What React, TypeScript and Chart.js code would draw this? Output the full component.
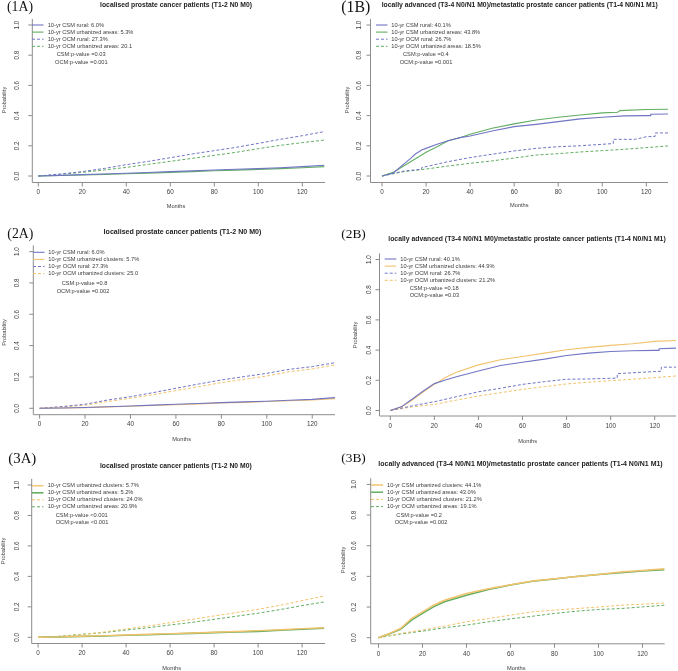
import React, { useEffect, useRef } from 'react';
import { Chart, registerables } from 'chart.js';
Chart.register(...registerables);

const W = 678;
const H = 671;
const BLUE = '#7175c4';
const GREEN = '#62ad62';
const ORANGE = '#f2c36c';
const AXIS = '#8c8c8c';
const TEXT = '#3c3c3c';
const SANS = '"Liberation Sans", Arial, sans-serif';
const SERIF = '"Liberation Serif", "Times New Roman", serif';

// ---------- data ----------
const monthsGrid = [0, 10, 20, 30, 40, 50, 60, 70, 80, 90, 100, 110, 120, 130];
const monthsFine = [0, 5, 10, 15, 20, 25, 30, 40, 50, 60, 70, 80, 90, 100, 110, 120, 130];
const xTicks = [0, 20, 40, 60, 80, 100, 120];
const yTicks = [0, 0.2, 0.4, 0.6, 0.8, 1.0];
const yTickLabels = ['0.0', '0.2', '0.4', '0.6', '0.8', '1.0'];

const titleA = 'localised prostate cancer patients (T1-2 N0 M0)';
const titleB = 'locally advanced (T3-4 N0/N1 M0)/metastatic prostate cancer patients (T1-4 N0/N1 M1)';

// 1A
const p1aCsmRural = [0, 0.004, 0.009, 0.013, 0.018, 0.023, 0.029, 0.034, 0.040, 0.045, 0.049, 0.055, 0.062, 0.071];
const p1aCsmUrban = [0, 0.003, 0.007, 0.011, 0.015, 0.019, 0.024, 0.029, 0.035, 0.039, 0.044, 0.049, 0.055, 0.062];
const p1aOcmRural = [0, 0.013, 0.029, 0.050, 0.075, 0.097, 0.121, 0.146, 0.168, 0.190, 0.216, 0.243, 0.267, 0.294];
const p1aOcmUrban = [0, 0.011, 0.024, 0.040, 0.057, 0.077, 0.097, 0.117, 0.137, 0.157, 0.181, 0.203, 0.221, 0.238];
const p1aLegend = ['10-yr CSM rural: 6.0%', '10-yr CSM urbanized areas: 5.3%', '10-yr OCM rural: 27.3%', '10-yr OCM urbanized areas: 20.1'];
const p1aP = ['CSM:p-value =0.03', 'OCM:p-value =0.001'];

// 1B
const p1bCsmRuralMonths = [0, 5, 10, 13, 15, 18, 20, 25, 30, 36, 40, 50, 60, 70, 80, 90, 100, 110, 120, 122, 122, 130];
const p1bCsmRural = [0, 0.018, 0.080, 0.117, 0.144, 0.172, 0.183, 0.210, 0.234, 0.256, 0.265, 0.298, 0.327, 0.342, 0.360, 0.378, 0.389, 0.398, 0.400, 0.400, 0.409, 0.411];
const p1bCsmUrbanMonths = [0, 5, 10, 15, 20, 25, 30, 36, 40, 50, 60, 70, 80, 90, 100, 107, 108, 120, 130];
const p1bCsmUrban = [0, 0.024, 0.068, 0.113, 0.157, 0.194, 0.234, 0.256, 0.276, 0.316, 0.345, 0.371, 0.389, 0.404, 0.418, 0.422, 0.433, 0.440, 0.442];
const p1bOcmRuralMonths = [0, 10, 18, 18, 20, 30, 40, 50, 60, 70, 80, 90, 100, 105, 105, 115, 120, 124, 124, 130];
const p1bOcmRural = [0, 0.033, 0.045, 0.055, 0.062, 0.095, 0.122, 0.144, 0.166, 0.183, 0.194, 0.200, 0.210, 0.215, 0.243, 0.243, 0.260, 0.262, 0.285, 0.285];
const p1bOcmUrban = [0, 0.029, 0.046, 0.066, 0.084, 0.100, 0.119, 0.139, 0.148, 0.159, 0.168, 0.177, 0.188, 0.199];
const p1bLegend = ['10-yr CSM rural: 40.1%', '10-yr CSM urbanized areas: 43.8%', '10-yr OCM rural: 26.7%', '10-yr OCM urbanized areas: 18.5%'];
const p1bP = ['CSM:p-value =0.4', 'OCM:p-value =0.001'];

// 2A
const p2aCsmRural = [0, 0.002, 0.005, 0.010, 0.015, 0.020, 0.026, 0.031, 0.036, 0.041, 0.045, 0.051, 0.057, 0.068];
const p2aCsmClusters = [0, 0.002, 0.004, 0.009, 0.013, 0.018, 0.023, 0.028, 0.034, 0.038, 0.043, 0.048, 0.053, 0.062];
const p2aOcmRural = [0, 0.011, 0.026, 0.053, 0.074, 0.100, 0.128, 0.155, 0.181, 0.202, 0.223, 0.249, 0.266, 0.291];
const p2aOcmClusters = [0, 0.009, 0.019, 0.043, 0.064, 0.087, 0.113, 0.138, 0.164, 0.185, 0.206, 0.234, 0.251, 0.277];
const p2aLegend = ['10-yr CSM rural: 6.0%', '10-yr CSM urbanized clusters: 5.7%', '10-yr OCM rural: 27.3%', '10-yr OCM urbanized clusters: 25.0'];
const p2aP = ['CSM:p-value =0.8', 'OCM:p-value =0.002'];

// 2B
const p2bCsmRuralMonths = [0, 5, 10, 15, 20, 25, 30, 40, 50, 60, 70, 80, 90, 100, 110, 120, 122, 122, 130];
const p2bCsmRural = [0, 0.024, 0.076, 0.129, 0.178, 0.202, 0.224, 0.262, 0.298, 0.320, 0.340, 0.364, 0.380, 0.391, 0.396, 0.398, 0.398, 0.409, 0.413];
const p2bCsmClusters = [0, 0.024, 0.069, 0.124, 0.173, 0.218, 0.253, 0.302, 0.336, 0.358, 0.380, 0.402, 0.418, 0.431, 0.442, 0.458, 0.464];
const p2bOcmRuralMonths = [0, 10, 20, 30, 40, 50, 60, 70, 80, 90, 100, 103, 103, 120, 123, 123, 130];
const p2bOcmRural = [0, 0.031, 0.058, 0.091, 0.124, 0.147, 0.173, 0.191, 0.207, 0.209, 0.213, 0.215, 0.244, 0.258, 0.260, 0.287, 0.287];
const p2bOcmClusters = [0, 0.024, 0.040, 0.069, 0.096, 0.118, 0.140, 0.158, 0.176, 0.187, 0.198, 0.207, 0.218, 0.229];
const p2bLegend = ['10-yr CSM rural: 40.1%', '10-yr CSM urbanized clusters: 44.9%', '10-yr OCM rural: 26.7%', '10-yr OCM urbanized clusters: 21.2%'];
const p2bP = ['CSM:p-value =0.18', 'OCM:p-value =0.03'];

// 3A
const p3aCsmClusters = [0, 0.003, 0.007, 0.011, 0.015, 0.020, 0.024, 0.028, 0.033, 0.038, 0.044, 0.050, 0.057, 0.063];
const p3aCsmAreas = [0, 0.003, 0.006, 0.009, 0.013, 0.017, 0.022, 0.026, 0.031, 0.035, 0.039, 0.046, 0.053, 0.059];
const p3aOcmClusters = [0, 0.007, 0.018, 0.035, 0.055, 0.074, 0.096, 0.118, 0.140, 0.162, 0.184, 0.210, 0.241, 0.271];
const p3aOcmAreas = [0, 0.007, 0.020, 0.031, 0.048, 0.063, 0.081, 0.098, 0.118, 0.138, 0.158, 0.182, 0.208, 0.232];
const p3aLegend = ['10-yr CSM urbanized clusters: 5.7%', '10-yr CSM urbanized areas: 5.2%', '10-yr OCM urbanized clusters: 24.0%', '10-yr OCM urbanized areas: 20.9%'];
const p3aP = ['CSM:p-value <0.001', 'OCM:p-value <0.001'];

// 3B
const p3bCsmClusters = [0, 0.028, 0.060, 0.125, 0.169, 0.212, 0.244, 0.288, 0.320, 0.346, 0.370, 0.385, 0.400, 0.413, 0.428, 0.439, 0.450];
const p3bCsmAreas = [0, 0.026, 0.055, 0.115, 0.158, 0.201, 0.234, 0.277, 0.314, 0.344, 0.368, 0.383, 0.400, 0.413, 0.424, 0.435, 0.443];
const p3bOcmClusters = [0, 0.028, 0.050, 0.076, 0.104, 0.125, 0.147, 0.169, 0.180, 0.190, 0.200, 0.212, 0.218, 0.227];
const p3bOcmAreas = [0, 0.024, 0.043, 0.065, 0.082, 0.104, 0.123, 0.140, 0.158, 0.173, 0.184, 0.190, 0.201, 0.212];
const p3bLegend = ['10-yr CSM urbanized clusters: 44.1%', '10-yr CSM urbanized areas: 43.0%', '10-yr OCM urbanized clusters: 21.2%', '10-yr OCM urbanized areas: 19.1%'];
const p3bP = ['CSM:p-value =0.2', 'OCM:p-value =0.002'];

// ---------- panel layout ----------
type Series = { xs: number[]; ys: number[]; color: string; dash: number[]; width: number };
type Panel = {
  label: string; labelX: number; labelY: number; labelW: number;
  title: string; titleX: number; titleY: number; titleW: number;
  x0: number; kx: number; boxL: number; boxR: number;
  y0: number; ky: number; boxB: number;
  yLabX: number; probX: number; probY: number; monthsX: number; monthsY: number;
  lineX1: number; lineX2: number; textX: number; rowY: number; rowStep: number;
  legend: string[]; pvals: string[]; pX: number[]; pY: number[];
  series: Series[];
};

const SOLID: number[] = [];
const DASH = [3, 2];

const panels: Panel[] = [
  {
    label: '(1A)', labelX: 7, labelY: 7.5, labelW: 26,
    title: titleA, titleX: 176, titleY: 5.5, titleW: 152,
    x0: 38.3, kx: 2.2, boxL: 32.3, boxR: 325, y0: 176, ky: 151, boxB: 182.5,
    yLabX: 17.3, probX: 4.5, probY: 100, monthsX: 176, monthsY: 206,
    lineX1: 32, lineX2: 43.5, textX: 47.7, rowY: 25, rowStep: 7.1,
    legend: p1aLegend, pvals: p1aP, pX: [56.7, 55], pY: [54.3, 62],
    series: [
      { xs: monthsGrid, ys: p1aCsmRural, color: BLUE, dash: SOLID, width: 1.1 },
      { xs: monthsGrid, ys: p1aCsmUrban, color: GREEN, dash: SOLID, width: 1.1 },
      { xs: monthsGrid, ys: p1aOcmRural, color: BLUE, dash: DASH, width: 1 },
      { xs: monthsGrid, ys: p1aOcmUrban, color: GREEN, dash: DASH, width: 1 },
    ],
  },
  {
    label: '(1B)', labelX: 341.3, labelY: 7.5, labelW: 29,
    title: titleB, titleX: 519.7, titleY: 5.5, titleW: 277,
    x0: 382, kx: 2.2025, boxL: 370.5, boxR: 668, y0: 176, ky: 151, boxB: 182.5,
    yLabX: 359.7, probX: 347.3, probY: 100, monthsX: 519.3, monthsY: 205.7,
    lineX1: 376, lineX2: 387.5, textX: 391.3, rowY: 25, rowStep: 7.1,
    legend: p1bLegend, pvals: p1bP, pX: [403, 399.7], pY: [54.3, 62],
    series: [
      { xs: p1bCsmRuralMonths, ys: p1bCsmRural, color: BLUE, dash: SOLID, width: 1.1 },
      { xs: p1bCsmUrbanMonths, ys: p1bCsmUrban, color: GREEN, dash: SOLID, width: 1.1 },
      { xs: p1bOcmRuralMonths, ys: p1bOcmRural, color: BLUE, dash: DASH, width: 1 },
      { xs: monthsGrid, ys: p1bOcmUrban, color: GREEN, dash: DASH, width: 1 },
    ],
  },
  {
    label: '(2A)', labelX: 7.3, labelY: 234, labelW: 26,
    title: titleA, titleX: 182.5, titleY: 232.5, titleW: 158,
    x0: 39.6, kx: 2.272, boxL: 33.3, boxR: 335, y0: 408.3, ky: 156.7, boxB: 414.7,
    yLabX: 17.3, probX: 4.5, probY: 332.5, monthsX: 181.7, monthsY: 439,
    lineX1: 33, lineX2: 44.5, textX: 48.3, rowY: 252.3, rowStep: 7.1,
    legend: p2aLegend, pvals: p2aP, pX: [61.7, 56.7], pY: [283.3, 291],
    series: [
      { xs: monthsGrid, ys: p2aCsmRural, color: BLUE, dash: SOLID, width: 1.1 },
      { xs: monthsGrid, ys: p2aCsmClusters, color: ORANGE, dash: SOLID, width: 1.1 },
      { xs: monthsGrid, ys: p2aOcmRural, color: BLUE, dash: DASH, width: 1 },
      { xs: monthsGrid, ys: p2aOcmClusters, color: ORANGE, dash: DASH, width: 1 },
    ],
  },
  {
    label: '(2B)', labelX: 341.3, labelY: 234, labelW: 24.5,
    title: titleB, titleX: 527, titleY: 239.3, titleW: 278,
    x0: 390.3, kx: 2.2033, boxL: 379.5, boxR: 676, y0: 410.5, ky: 151, boxB: 416,
    yLabX: 369, probX: 355.3, probY: 335, monthsX: 527.7, monthsY: 441,
    lineX1: 384.7, lineX2: 396.3, textX: 400.3, rowY: 259, rowStep: 7.1,
    legend: p2bLegend, pvals: p2bP, pX: [409.7, 409.7], pY: [288.3, 295.7],
    series: [
      { xs: p2bCsmRuralMonths, ys: p2bCsmRural, color: BLUE, dash: SOLID, width: 1.1 },
      { xs: monthsFine, ys: p2bCsmClusters, color: ORANGE, dash: SOLID, width: 1.1 },
      { xs: p2bOcmRuralMonths, ys: p2bOcmRural, color: BLUE, dash: DASH, width: 1 },
      { xs: monthsGrid, ys: p2bOcmClusters, color: ORANGE, dash: DASH, width: 1 },
    ],
  },
  {
    label: '(3A)', labelX: 8.3, labelY: 459, labelW: 28,
    title: titleA, titleX: 175.8, titleY: 466, titleW: 152,
    x0: 38.1, kx: 2.2, boxL: 31.7, boxR: 325, y0: 637.3, ky: 152.3, boxB: 643.5,
    yLabX: 17.5, probX: 3.8, probY: 551, monthsX: 171.7, monthsY: 668.3,
    lineX1: 32, lineX2: 43.5, textX: 47.7, rowY: 485.8, rowStep: 7.0,
    legend: p3aLegend, pvals: p3aP, pX: [55.7, 55.7], pY: [515.7, 522.7],
    series: [
      { xs: monthsGrid, ys: p3aCsmClusters, color: ORANGE, dash: SOLID, width: 1.4 },
      { xs: monthsGrid, ys: p3aCsmAreas, color: GREEN, dash: SOLID, width: 1.6 },
      { xs: monthsGrid, ys: p3aOcmClusters, color: ORANGE, dash: DASH, width: 1 },
      { xs: monthsGrid, ys: p3aOcmAreas, color: GREEN, dash: DASH, width: 1 },
    ],
  },
  {
    label: '(3B)', labelX: 341.3, labelY: 458.5, labelW: 24.5,
    title: titleB, titleX: 520.5, titleY: 464, titleW: 285,
    x0: 378.5, kx: 2.2, boxL: 370.7, boxR: 664.7, y0: 637.7, ky: 153.3, boxB: 643.8,
    yLabX: 354.7, probX: 343, probY: 560, monthsX: 516.3, monthsY: 668.3,
    lineX1: 371, lineX2: 383, textX: 387, rowY: 485, rowStep: 7.2,
    legend: p3bLegend, pvals: p3bP, pX: [396.3, 394.7], pY: [515, 522.7],
    series: [
      { xs: monthsFine, ys: p3bCsmClusters, color: ORANGE, dash: SOLID, width: 1.5 },
      { xs: monthsFine, ys: p3bCsmAreas, color: GREEN, dash: SOLID, width: 1.5 },
      { xs: monthsGrid, ys: p3bOcmClusters, color: ORANGE, dash: DASH, width: 1 },
      { xs: monthsGrid, ys: p3bOcmAreas, color: GREEN, dash: DASH, width: 1 },
    ],
  },
];

function fitFont(ctx: CanvasRenderingContext2D, text: string, width: number, weight: string, family: string) {
  ctx.font = `${weight} 20px ${family}`;
  const w = ctx.measureText(text).width;
  const size = (20 * width) / w;
  ctx.font = `${weight} ${size}px ${family}`;
}

function makeDecorPlugin(p: Panel) {
  return {
    id: 'rdecor',
    afterDraw(chart: any) {
      const ctx: CanvasRenderingContext2D = chart.ctx;
      const xs = chart.scales.x;
      const ys = chart.scales.y;
      const top = chart.chartArea.top;
      ctx.save();
      // axes (bty = "l")
      ctx.strokeStyle = AXIS;
      ctx.lineWidth = 1;
      ctx.setLineDash([]);
      ctx.beginPath();
      ctx.moveTo(p.boxL, top);
      ctx.lineTo(p.boxL, p.boxB);
      ctx.lineTo(p.boxR, p.boxB);
      ctx.stroke();
      ctx.beginPath();
      for (const t of xTicks) {
        const px = xs.getPixelForValue(t);
        ctx.moveTo(px, p.boxB);
        ctx.lineTo(px, p.boxB + 4);
      }
      for (const t of yTicks) {
        const py = ys.getPixelForValue(t);
        ctx.moveTo(p.boxL, py);
        ctx.lineTo(p.boxL - 4, py);
      }
      ctx.stroke();

      ctx.fillStyle = TEXT;
      ctx.textBaseline = 'middle';
      ctx.textAlign = 'center';
      ctx.font = `6.3px ${SANS}`;
      for (const t of xTicks) {
        ctx.fillText(String(t), xs.getPixelForValue(t), p.boxB + 10);
      }
      yTicks.forEach((t, i) => {
        const py = ys.getPixelForValue(t);
        ctx.save();
        ctx.translate(p.yLabX, py);
        ctx.rotate(-Math.PI / 2);
        ctx.fillText(yTickLabels[i], 0, 0);
        ctx.restore();
      });
      ctx.font = `5.7px ${SANS}`;
      ctx.fillText('Months', p.monthsX, p.monthsY);
      ctx.save();
      ctx.translate(p.probX, p.probY);
      ctx.rotate(-Math.PI / 2);
      ctx.fillText('Probability', 0, 0);
      ctx.restore();

      // title
      ctx.fillStyle = '#222';
      fitFont(ctx, p.title, p.titleW, 'bold', SANS);
      ctx.fillText(p.title, p.titleX, p.titleY);

      // panel label
      ctx.textAlign = 'left';
      ctx.fillStyle = '#111';
      fitFont(ctx, p.label, p.labelW, 'normal', SERIF);
      ctx.fillText(p.label, p.labelX, p.labelY);

      // legend
      ctx.font = `5.7px ${SANS}`;
      ctx.fillStyle = TEXT;
      p.legend.forEach((txt, i) => {
        const s = p.series[i];
        const y = p.rowY + i * p.rowStep;
        ctx.strokeStyle = s.color;
        ctx.lineWidth = s.width;
        ctx.setLineDash(s.dash);
        ctx.beginPath();
        ctx.moveTo(p.lineX1, y);
        ctx.lineTo(p.lineX2, y);
        ctx.stroke();
        ctx.fillText(txt, p.textX, y);
      });
      ctx.setLineDash([]);
      p.pvals.forEach((txt, i) => {
        ctx.fillText(txt, p.pX[i], p.pY[i]);
      });
      ctx.restore();
    },
  };
}

function PanelChart({ p }: { p: Panel }) {
  const ref = useRef<HTMLCanvasElement | null>(null);
  useEffect(() => {
    if (!ref.current) return;
    const xmin = (p.boxL - p.x0) / p.kx;
    const xmax = (p.boxR - p.x0) / p.kx;
    const ymin = -(p.boxB - p.y0) / p.ky;
    const ymax = 1.04;
    const top = p.y0 - ymax * p.ky;
    const chart = new Chart(ref.current, {
      type: 'line',
      data: {
        datasets: p.series.map((s) => ({
          data: s.xs.map((x, i) => ({ x, y: s.ys[i] })),
          borderColor: s.color,
          borderWidth: s.width,
          borderDash: s.dash,
          pointRadius: 0,
          tension: 0,
          fill: false,
        })),
      },
      options: {
        responsive: false,
        animation: false,
        events: [],
        layout: { padding: { left: p.boxL, right: W - p.boxR, top, bottom: H - p.boxB } },
        plugins: { legend: { display: false }, title: { display: false }, tooltip: { enabled: false } },
        scales: {
          x: { type: 'linear', min: xmin, max: xmax, display: false },
          y: { type: 'linear', min: ymin, max: ymax, display: false },
        },
      },
      plugins: [makeDecorPlugin(p)],
    } as any);
    return () => chart.destroy();
  }, [p]);
  return (
    <canvas
      ref={ref}
      width={W}
      height={H}
      style={{ position: 'absolute', left: 0, top: 0, width: W, height: H }}
    />
  );
}

export default function App() {
  useEffect(() => {
    document.body.style.margin = '0';
    document.body.style.background = '#ffffff';
  }, []);
  return (
    <div style={{ position: 'absolute', left: 0, top: 0, width: W, height: H, background: '#fff' }}>
      {panels.map((p, i) => (
        <PanelChart key={i} p={p} />
      ))}
    </div>
  );
}
